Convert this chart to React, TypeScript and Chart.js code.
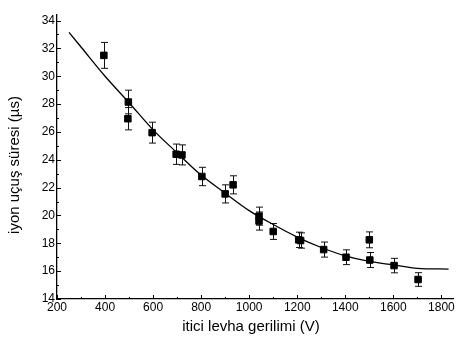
import React, { useEffect, useRef } from "react";
import { Chart, registerables } from "chart.js";

Chart.register(...registerables);

// Measured points (itici levha gerilimi, V) and flight times (µs) with error half-widths
const pointX = [395, 497, 495, 596, 696, 720, 803, 900, 933, 1041, 1041, 1100, 1206, 1214, 1310, 1403, 1500, 1502, 1603, 1703];
const pointY = [31.5, 28.15, 26.95, 25.95, 24.4, 24.35, 22.8, 21.55, 22.2, 19.95, 19.6, 18.85, 18.25, 18.2, 17.55, 17.0, 18.25, 16.8, 16.4, 15.4];
const pointErr = [0.93, 0.85, 0.8, 0.75, 0.73, 0.72, 0.66, 0.65, 0.65, 0.65, 0.65, 0.57, 0.55, 0.55, 0.54, 0.53, 0.57, 0.54, 0.52, 0.49];

// Fitted curve
const fitX = [250, 300, 400, 500, 600, 700, 800, 900, 1000, 1100, 1200, 1300, 1400, 1500, 1600, 1700, 1830];
const fitY = [33.15, 32.1, 30.0, 28.1, 26.15, 24.5, 22.9, 21.6, 20.35, 19.35, 18.45, 17.7, 17.1, 16.7, 16.45, 16.2, 16.15];

// Axis ticks
const xTicks = [200, 400, 600, 800, 1000, 1200, 1400, 1600, 1800];
const yTicks = [14, 16, 18, 20, 22, 24, 26, 28, 30, 32, 34];
const xMinorStep = 100;
const yMinorStep = 1;

const xTitle = "itici levha gerilimi (V)";
const yTitle = "iyon uçuş süresi (µs)";

const FONT = "'Liberation Sans', Arial, Helvetica, sans-serif";

export default function App() {
  const ref = useRef<HTMLCanvasElement>(null);

  useEffect(() => {
    const canvas = ref.current;
    if (!canvas) return;

    const errorBars = {
      id: "errorBars",
      beforeDatasetsDraw(chart: any) {
        const ctx = chart.ctx;
        const xs = chart.scales.x;
        const ys = chart.scales.y;
        ctx.save();
        ctx.strokeStyle = "#111";
        ctx.lineWidth = 1;
        for (let i = 0; i < pointX.length; i++) {
          const px = Math.round(xs.getPixelForValue(pointX[i])) + 0.5;
          const top = ys.getPixelForValue(pointY[i] + pointErr[i]);
          const bot = ys.getPixelForValue(pointY[i] - pointErr[i]);
          ctx.beginPath();
          ctx.moveTo(px, top);
          ctx.lineTo(px, bot);
          ctx.moveTo(px - 3.5, top);
          ctx.lineTo(px + 3.5, top);
          ctx.moveTo(px - 3.5, bot);
          ctx.lineTo(px + 3.5, bot);
          ctx.stroke();
        }
        ctx.restore();
      },
      afterDraw(chart: any) {
        const ctx = chart.ctx;
        const xs = chart.scales.x;
        const ys = chart.scales.y;
        const area = chart.chartArea;
        ctx.save();
        ctx.strokeStyle = "#000";
        ctx.lineWidth = 1;
        ctx.beginPath();
        // x ticks (inward)
        for (let v = xs.min; v <= xs.max; v += xMinorStep) {
          const major = xTicks.includes(v);
          const px = Math.round(xs.getPixelForValue(v)) + 0.5;
          ctx.moveTo(px, area.bottom);
          ctx.lineTo(px, area.bottom - (major ? 4 : 2));
        }
        // y ticks (inward)
        for (let v = ys.min; v <= ys.max; v += yMinorStep) {
          const major = yTicks.includes(v);
          const py = Math.round(ys.getPixelForValue(v)) + 0.5;
          ctx.moveTo(area.left, py);
          ctx.lineTo(area.left + (major ? 4 : 2), py);
        }
        ctx.stroke();

        // axis titles
        ctx.fillStyle = "#000";
        ctx.font = `15px ${FONT}`;
        ctx.textAlign = "center";
        ctx.textBaseline = "middle";
        ctx.fillText(xTitle, 251, 327);
        ctx.translate(15, 165);
        ctx.rotate(-Math.PI / 2);
        ctx.fillText(yTitle, 0, 0);
        ctx.restore();
      },
    };

    const chart = new Chart(canvas, {
      type: "scatter",
      data: {
        datasets: [
          {
            type: "line",
            label: "fit",
            data: fitX.map((x, i) => ({ x, y: fitY[i] })),
            borderColor: "#000",
            borderWidth: 1.3,
            pointRadius: 0,
            fill: false,
            cubicInterpolationMode: "monotone",
          } as any,
          {
            label: "data",
            data: pointX.map((x, i) => ({ x, y: pointY[i] })),
            pointStyle: "rect",
            pointRadius: 4.6,
            backgroundColor: "#000",
            borderColor: "#000",
            borderWidth: 1,
          },
        ],
      },
      options: {
        responsive: false,
        animation: false,
        layout: { padding: { top: 15, right: 3, left: 0, bottom: 0 } },
        plugins: {
          legend: { display: false },
          tooltip: { enabled: false },
        },
        scales: {
          x: {
            type: "linear",
            min: 200,
            max: 1850,
            grid: { display: false, drawTicks: false },
            border: { display: true, color: "#000", width: 1.3 },
            ticks: {
              color: "#000",
              padding: 1,
              font: { family: FONT, size: 12 },
              maxRotation: 0,
              autoSkip: false,
              callback: (v: any) => String(v),
            },
            afterBuildTicks: (scale: any) => {
              scale.ticks = xTicks.map((v) => ({ value: v }));
            },
            afterFit: (scale: any) => {
              scale.height = 42;
            },
          },
          y: {
            type: "linear",
            min: 14,
            max: 34.4,
            grid: { display: false, drawTicks: false },
            border: { display: true, color: "#000", width: 1.3 },
            ticks: {
              color: "#000",
              padding: 2,
              font: { family: FONT, size: 12 },
              autoSkip: false,
              callback: (v: any) => String(v),
            },
            afterBuildTicks: (scale: any) => {
              scale.ticks = yTicks.map((v) => ({ value: v }));
            },
            afterFit: (scale: any) => {
              scale.width = 57;
            },
          },
        },
      },
      plugins: [errorBars],
    });

    return () => chart.destroy();
  }, []);

  return (
    <div style={{ position: "absolute", left: 0, top: 0, width: 459, height: 341, background: "#fff" }}>
      <canvas ref={ref} width={459} height={341} style={{ display: "block" }} />
    </div>
  );
}
